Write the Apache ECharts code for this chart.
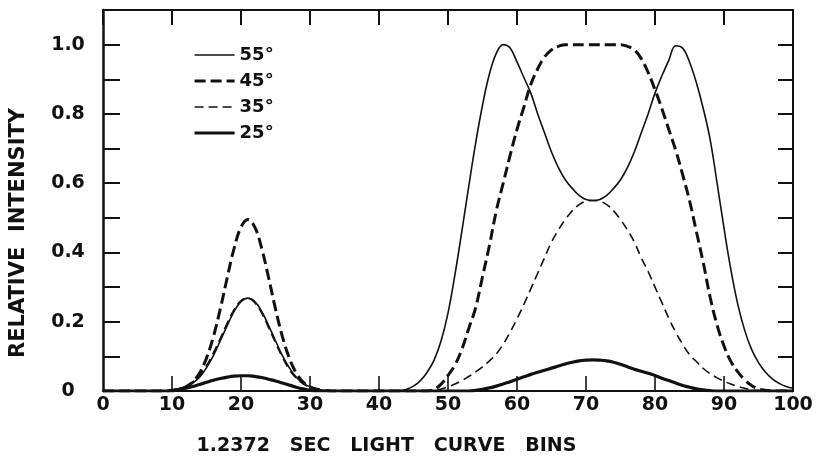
<!DOCTYPE html>
<html lang="en">
<head>
    <meta charset="UTF-8">
    <title>Relative intensity vs light curve bins</title>
    <style>
        html, body { margin: 0; padding: 0; background: #fff; }
    </style>
</head>
<body>
<div id="main" style="width: 824px;height:464px;"></div>
<script src="https://cdn.jsdelivr.net/npm/echarts@6/dist/echarts.min.js"></script>
<script type="text/javascript">
    // x: light curve bin (0..100)
    var bins = [0,1,2,3,4,5,6,7,8,9,10,11,12,13,14,15,16,17,18,19,20,
        21,22,23,24,25,26,27,28,29,30,31,32,33,34,35,36,37,38,39,40,
        41,42,43,44,45,46,47,48,49,50,51,52,53,54,55,56,57,58,59,60,
        61,62,63,64,65,66,67,68,69,70,71,72,73,74,75,76,77,78,79,80,
        81,82,83,84,85,86,87,88,89,90,91,92,93,94,95,96,97,98,99,100];

    // relative intensity, one value per bin
    var i55 = [0,0,0,0,0,0,0,0,0,0,0.002,
        0.006,0.012,0.023,0.040,0.067,0.102,0.145,0.189,0.230,0.258,
        0.268,0.258,0.230,0.189,0.145,0.102,0.067,0.040,0.023,0.012,
        0.005,0.002,0,0,0,0,0,0,0,0,
        0,0,0,0.005,0.014,0.03,0.055,0.09,0.145,0.225,
        0.335,0.46,0.59,0.715,0.825,0.915,0.975,1.0,0.99,0.95,
        0.905,0.86,0.80,0.745,0.69,0.645,0.61,0.585,0.565,0.553,
        0.55,0.553,0.565,0.585,0.61,0.645,0.69,0.745,0.80,0.86,
        0.91,0.955,0.997,0.99,0.95,0.89,0.815,0.725,0.60,0.47,
        0.35,0.25,0.175,0.12,0.082,0.055,0.035,0.022,0.013,0.008];

    var i45 = [0,0,0,0,0,0,0,0,0,0,0.002,
        0.005,0.012,0.026,0.052,0.095,0.157,0.237,0.327,0.412,0.473,
        0.495,0.473,0.412,0.327,0.237,0.157,0.095,0.052,0.026,0.012,
        0.005,0.002,0,0,0,0,0,0,0,0,
        0,0,0,0,0,0,0,0.005,0.02,0.045,
        0.075,0.12,0.18,0.24,0.33,0.42,0.52,0.60,0.68,0.755,
        0.82,0.885,0.93,0.965,0.985,0.995,1.0,1.0,1.0,1.0,
        1.0,1.0,1.0,1.0,1.0,0.995,0.985,0.96,0.92,0.87,
        0.815,0.755,0.695,0.625,0.55,0.46,0.37,0.27,0.19,0.13,
        0.085,0.055,0.032,0.016,0.006,0.002,0,0,0,0];

    var i35 = [0,0,0,0,0,0,0,0,0,0,0.003,
        0.007,0.014,0.026,0.045,0.073,0.110,0.152,0.196,0.235,0.261,
        0.268,0.255,0.225,0.183,0.139,0.097,0.062,0.037,0.021,0.011,
        0.005,0.002,0,0,0,0,0,0,0,0,
        0,0,0,0,0,0,0,0.002,0.006,0.012,
        0.02,0.03,0.042,0.055,0.07,0.087,0.107,0.135,0.17,0.208,
        0.25,0.295,0.34,0.385,0.43,0.465,0.495,0.52,0.538,0.548,
        0.55,0.548,0.538,0.52,0.495,0.465,0.43,0.385,0.345,0.30,
        0.255,0.21,0.17,0.135,0.105,0.085,0.065,0.05,0.038,0.028,
        0.02,0.013,0.008,0.004,0.001,0,0,0,0,0];

    var i25 = [0,0,0,0,0,0,0,0,0,0,0,
        0.004,0.008,0.013,0.019,0.025,0.031,0.036,0.040,0.043,0.044,
        0.044,0.042,0.039,0.034,0.029,0.023,0.017,0.011,0.006,0.002,
        0,0,0,0,0,0,0,0,0,0,
        0,0,0,0,0,0,0,0,0,0,
        0,0,0,0.002,0.005,0.009,0.014,0.02,0.027,0.034,
        0.041,0.048,0.054,0.06,0.066,0.072,0.078,0.083,0.087,0.089,
        0.09,0.089,0.087,0.083,0.077,0.07,0.063,0.057,0.051,0.045,
        0.037,0.03,0.023,0.016,0.011,0.006,0.003,0.001,0,0,
        0,0,0,0,0,0,0,0,0,0];

    var names = ['55°', '45°', '35°', '25°'];
    var yTickLabels = ['0', '0.2', '0.4', '0.6', '0.8', '1.0'];
    var xInnerTicks = [10, 20, 30, 40, 50, 60, 70, 80, 90];

    function pairs(vals) {
        var out = [];
        for (var i = 0; i < bins.length; i++) {
            out.push([bins[i], vals[i]]);
        }
        return out;
    }

    var ink = '#111';
    var font = 'DejaVu Sans';

    // line look of each curve: thin solid, thick dashed, thin dashed, thick solid
    var styles = [
        {color: ink, width: 1.6, type: 'solid'},
        {color: ink, width: 3, type: [11, 5]},
        {color: ink, width: 1.6, type: [9, 5]},
        {color: ink, width: 3.2, type: 'solid'}
    ];
    var curves = [i55, i45, i35, i25];

    var myChart = echarts.init(document.getElementById('main'));

    // frame lines must stay on the grid edges, not jump to zero
    var boxAxisLine = {show: true, onZero: false, lineStyle: {color: ink, width: 2}};
    var boxTick = {show: true, inside: true, length: 15, lineStyle: {color: ink, width: 2}};

    var series = [];
    var legendData = [];
    for (var s = 0; s < names.length; s++) {
        series.push({
            name: names[s],
            type: 'line',
            smooth: 0.4,
            symbol: 'none',
            data: pairs(curves[s]),
            lineStyle: styles[s],
            itemStyle: {color: ink}
        });
        legendData.push({name: names[s], lineStyle: styles[s]});
    }

    // the bottom axis ticks would not draw, so put the inward ticks on the baseline as thin bars
    // (clip off: the points sit exactly on the grid edge)
    var baseTicks = [];
    for (var t = 0; t < xInnerTicks.length; t++) {
        baseTicks.push([xInnerTicks[t], 0]);
    }
    series.push({
        name: 'ticks',
        type: 'scatter',
        silent: true,
        clip: false,
        symbol: 'rect',
        symbolSize: [2, 15],
        symbolOffset: [0, -7.5],
        itemStyle: {color: ink},
        data: baseTicks,
        z: 5
    });

    myChart.setOption({
        animation: false,
        backgroundColor: '#fff',
        grid: {left: 103, right: 31, top: 10, bottom: 73},
        legend: {
            orient: 'vertical',
            left: 188,
            top: 41,
            itemWidth: 40,
            itemHeight: 14,
            itemGap: 8,
            data: legendData,
            itemStyle: {opacity: 0},
            textStyle: {color: ink, fontFamily: font, fontSize: 18, fontWeight: 'bold'}
        },
        xAxis: [{
            type: 'value',
            min: 0,
            max: 100,
            interval: 10,
            position: 'bottom',
            axisLine: boxAxisLine,
            axisTick: {show: false},
            axisLabel: {margin: 5, color: ink, fontFamily: font, fontSize: 19, fontWeight: 'bold'},
            splitLine: {show: false},
            name: '1.2372   SEC   LIGHT   CURVE   BINS',
            nameLocation: 'middle',
            nameGap: 46,
            nameTextStyle: {color: ink, fontFamily: font, fontSize: 19, fontWeight: 'bold', padding: [0, 123, 0, 0]}
        }, {
            type: 'value', min: 0, max: 100, interval: 10, position: 'top',
            axisLine: boxAxisLine, axisTick: boxTick,
            axisLabel: {show: false}, splitLine: {show: false}
        }],
        yAxis: [{
            type: 'value',
            min: 0,
            max: 1.1,
            interval: 0.1,
            position: 'left',
            axisLine: {show: true, onZero: false, lineStyle: {color: ink, width: 2.5}},
            axisTick: {show: true, inside: true, length: 17, lineStyle: {color: ink, width: 2}},
            axisLabel: {
                margin: 35,
                align: 'center',
                color: ink, fontFamily: font, fontSize: 19, fontWeight: 'bold',
                formatter: function (v) {
                    var k = Math.round(v * 10);
                    return (k % 2 === 0 && k <= 10) ? yTickLabels[k / 2] : '';
                }
            },
            splitLine: {show: false},
            name: 'RELATIVE  INTENSITY',
            nameLocation: 'middle',
            nameGap: 74,
            nameTextStyle: {color: ink, fontFamily: font, fontSize: 21, fontWeight: 'bold', padding: [0, 65, 0, 0]}
        }, {
            type: 'value',
            min: 0,
            max: 1.1,
            interval: 0.1,
            position: 'right',
            axisLine: boxAxisLine,
            axisTick: boxTick,
            axisLabel: {show: false},
            splitLine: {show: false}
        }],
        series: series
    });
</script>
</body>
</html>
